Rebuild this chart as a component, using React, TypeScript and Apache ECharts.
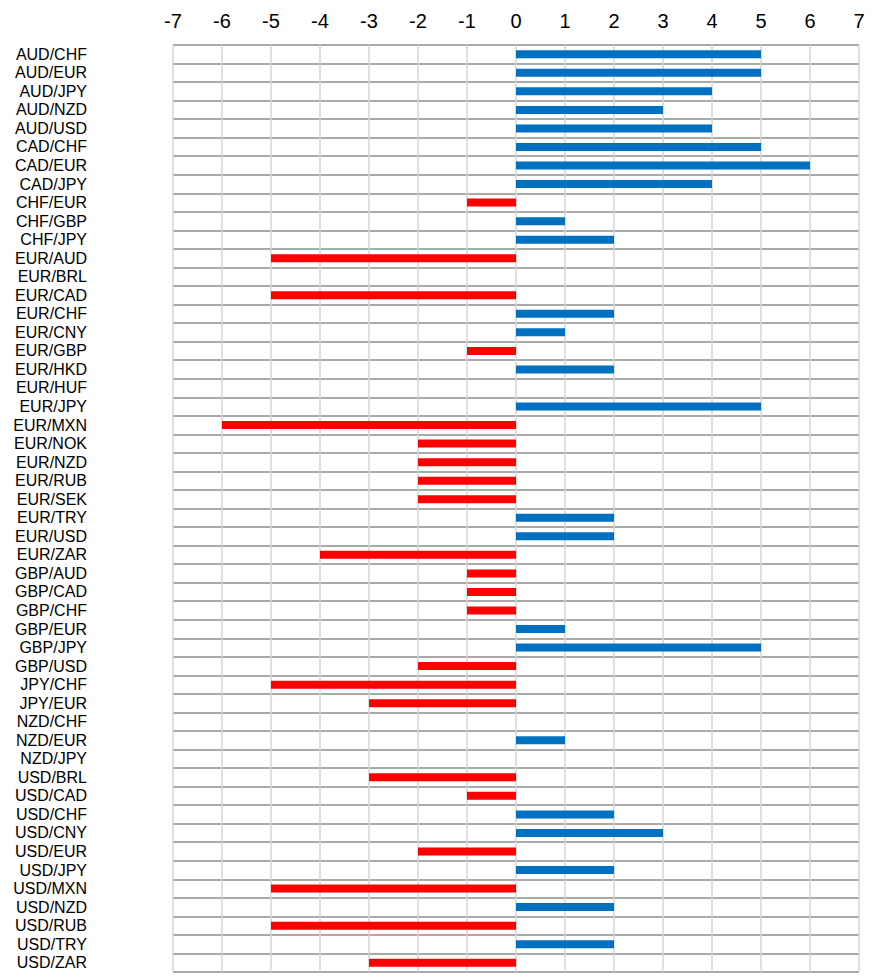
import React, { useEffect, useRef } from "react";
import * as echarts from "echarts";

const categories: string[] = [
  "AUD/CHF", "AUD/EUR", "AUD/JPY", "AUD/NZD", "AUD/USD", "CAD/CHF", "CAD/EUR", "CAD/JPY",
  "CHF/EUR", "CHF/GBP", "CHF/JPY", "EUR/AUD", "EUR/BRL", "EUR/CAD", "EUR/CHF", "EUR/CNY",
  "EUR/GBP", "EUR/HKD", "EUR/HUF", "EUR/JPY", "EUR/MXN", "EUR/NOK", "EUR/NZD", "EUR/RUB",
  "EUR/SEK", "EUR/TRY", "EUR/USD", "EUR/ZAR", "GBP/AUD", "GBP/CAD", "GBP/CHF", "GBP/EUR",
  "GBP/JPY", "GBP/USD", "JPY/CHF", "JPY/EUR", "NZD/CHF", "NZD/EUR", "NZD/JPY", "USD/BRL",
  "USD/CAD", "USD/CHF", "USD/CNY", "USD/EUR", "USD/JPY", "USD/MXN", "USD/NZD", "USD/RUB",
  "USD/TRY", "USD/ZAR",
];

const values: number[] = [
  5, 5, 4, 3, 4, 5, 6, 4,
  -1, 1, 2, -5, 0, -5, 2, 1,
  -1, 2, 0, 5, -6, -2, -2, -2,
  -2, 2, 2, -4, -1, -1, -1, 1,
  5, -2, -5, -3, 0, 1, 0, -3,
  -1, 2, 3, -2, 2, -5, 2, -5,
  2, -3,
];

const xMin = -7;
const xMax = 7;
const xInterval = 1;

const POS_COLOR = "#0070C0";
const NEG_COLOR = "#FF0000";

export default function App() {
  const ref = useRef<HTMLDivElement>(null);
  useEffect(() => {
    if (!ref.current) return;
    const chart = echarts.init(ref.current, null, { renderer: "svg" });
    chart.setOption({
      animation: false,
      backgroundColor: "#ffffff",
      textStyle: { fontFamily: "Liberation Sans, Arial, sans-serif" },
      grid: { left: 173, right: 15, top: 45, bottom: 8, containLabel: false },
      xAxis: {
        type: "value",
        position: "top",
        min: xMin,
        max: xMax,
        interval: xInterval,
        axisLine: { show: false },
        axisTick: { show: false },
        axisLabel: { fontSize: 20, color: "#000", margin: 14, fontFamily: "Liberation Sans, Arial, sans-serif" },
        splitLine: { show: true, lineStyle: { color: "#d4d4d4", width: 1.5 } },
      },
      yAxis: {
        type: "category",
        data: categories,
        inverse: true,
        axisLine: { show: false },
        axisTick: { show: false, interval: 0 },
        axisLabel: {
          interval: 0,
          fontSize: 16,
          color: "#000",
          margin: 86,
          align: "right",
          fontFamily: "Liberation Sans, Arial, sans-serif",
        },
        splitLine: { show: true, interval: 0, lineStyle: { color: "#8c8c8c", width: 1.5 } },
      },
      series: [
        {
          type: "bar",
          data: values,
          barWidth: 8,
          itemStyle: {
            color: (p: any) => (p.value >= 0 ? POS_COLOR : NEG_COLOR),
          },
        },
      ],
    });
    return () => chart.dispose();
  }, []);
  return (
    <div
      ref={ref}
      style={{ position: "fixed", left: 0, top: 0, width: 874, height: 980, background: "#fff" }}
    />
  );
}
